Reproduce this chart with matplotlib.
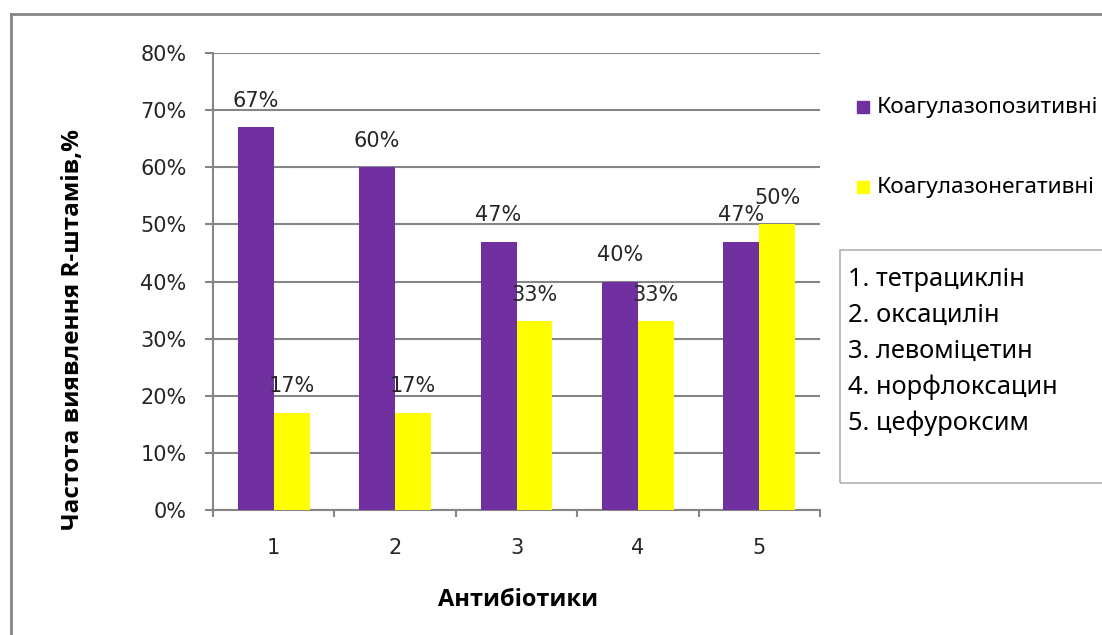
import numpy as np
import matplotlib
matplotlib.use('Agg')
from matplotlib import pyplot as plt
from matplotlib.patches import Rectangle
from matplotlib.lines import Line2D

categories = ['1', '2', '3', '4', '5']
pozytyvni = [67, 60, 47, 40, 47]
negatyvni = [17, 17, 33, 33, 50]
nazwy_serii = ['Коагулазопозитивні', 'Коагулазонегативні']
antybiotyky = ['1. тетрациклін', '2. оксацилін', '3. левоміцетин',
               '4. норфлоксацин', '5. цефуроксим']

kolor_fiolet = '#7030A0'
kolor_zolty = '#FFFF00'
kolor_siatki = '#868686'
kolor_tekstu = '#262626'
czcionka = ['Noto Sans', 'DejaVu Sans']
czcionka_bold = ['Open Sans', 'DejaVu Sans']

fig = plt.figure(figsize=(11.02, 6.35), dpi=100)
ax = fig.add_axes([213 / 1102, 1 - 510 / 635, 607 / 1102, 457 / 635])

x = np.arange(len(categories))
szer = 0.296
ax.bar(x - szer / 2, pozytyvni, szer, color=kolor_fiolet, zorder=3)
ax.bar(x + szer / 2, negatyvni, szer, color=kolor_zolty, zorder=3)

for xi, v in zip(x - szer / 2, pozytyvni):
    ax.annotate(f'{v}%', (xi, v), xytext=(0, 19), textcoords='offset points',
                ha='center', va='center', fontsize=15, color=kolor_tekstu, zorder=4)
for xi, v in zip(x + szer / 2, negatyvni):
    ax.annotate(f'{v}%', (xi, v), xytext=(0, 19), textcoords='offset points',
                ha='center', va='center', fontsize=15, color=kolor_tekstu, zorder=4)

ax.set_xlim(-0.5, 4.5)
ax.set_ylim(0, 80)
ax.set_yticks(np.arange(0, 81, 10))
ax.set_yticklabels([f'{t}%' for t in range(0, 81, 10)], fontsize=15, color=kolor_tekstu)
ax.yaxis.grid(True, color=kolor_siatki, linewidth=1.5, zorder=0)
ax.tick_params(axis='y', length=6, width=1.5, color=kolor_siatki, pad=13)

ax.set_xticks(np.arange(-0.5, 5, 1))
ax.set_xticklabels([])
ax.set_xticks(x, minor=True)
ax.set_xticklabels(categories, minor=True, fontsize=15, color=kolor_tekstu)
ax.tick_params(axis='x', which='major', length=5, width=1.5, color=kolor_siatki)
ax.tick_params(axis='x', which='minor', length=0, pad=20)

for s in ['top', 'right']:
    ax.spines[s].set_visible(False)
for s in ['left', 'bottom']:
    ax.spines[s].set_color(kolor_siatki)
    ax.spines[s].set_linewidth(1.5)

fig.text(518 / 1102, 1 - 600 / 635, 'Антибіотики', ha='center', va='center',
         fontsize=17, fontweight='bold', family=czcionka_bold, color='black')
fig.text(73 / 1102, 1 - 330 / 635, 'Частота виявлення R-штамів,%', ha='center',
         va='center', rotation=90, fontsize=17.5, fontweight='bold', family=czcionka_bold,
         color='black')

# legenda
for y_px, kol, nazwa in [(107, kolor_fiolet, nazwy_serii[0]), (187, kolor_zolty, nazwy_serii[1])]:
    fig.add_artist(Rectangle((857 / 1102, 1 - (y_px + 6) / 635), 12 / 1102, 12 / 635,
                             transform=fig.transFigure, color=kol))
    fig.text(877 / 1102, 1 - y_px / 635, nazwa, ha='left', va='center',
             fontsize=16.3, family=czcionka, color='black')

# ramka z nazwami antybiotyków
fig.add_artist(Rectangle((840 / 1102, 1 - 483 / 635), 300 / 1102, 233 / 635,
                         transform=fig.transFigure, fill=False, edgecolor='#b0b0b0',
                         linewidth=1.2))
for i, tekst in enumerate(antybiotyky):
    fig.text(848 / 1102, 1 - (280 + 35.8 * i) / 635, tekst, ha='left', va='center',
             fontsize=18.3, family=czcionka, color='black')

# obramowanie wykresu
fig.add_artist(Line2D([11 / 1102, 11 / 1102], [0, 1 - 14 / 635], transform=fig.transFigure,
                      color='#868686', linewidth=2))
fig.add_artist(Line2D([11 / 1102, 1], [1 - 14 / 635, 1 - 14 / 635], transform=fig.transFigure,
                      color='#868686', linewidth=2))

fig.savefig('out.png', dpi=100)
